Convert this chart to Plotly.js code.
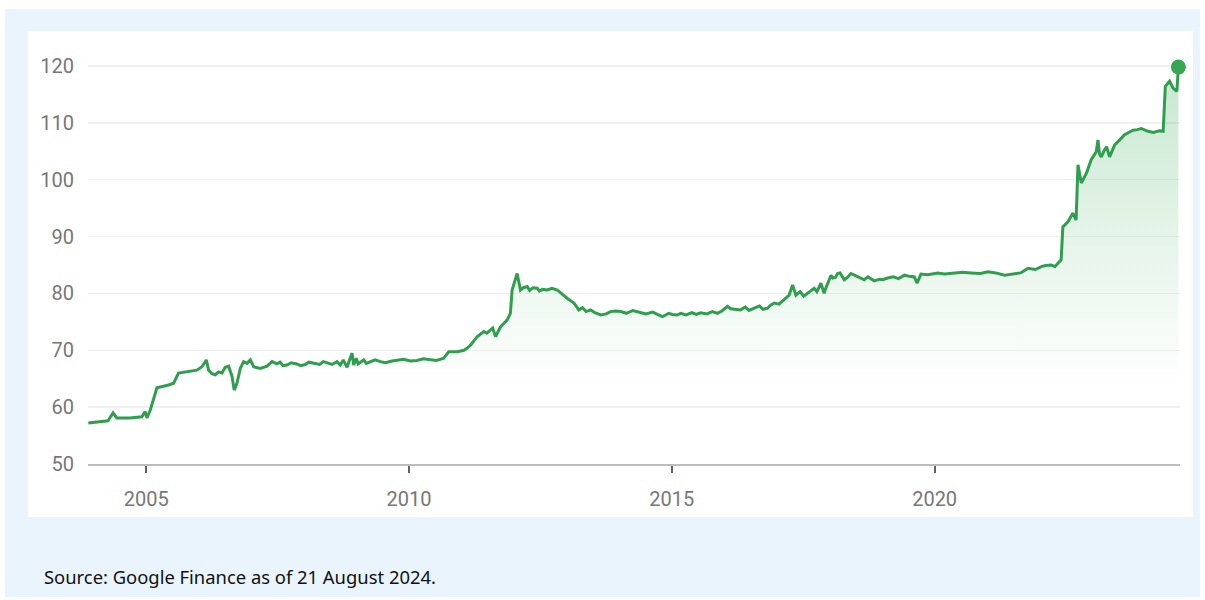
<!DOCTYPE html>
<html>
<head>
<meta charset="utf-8">
<script src="https://cdn.plot.ly/plotly-3.0.1.min.js"></script>
<style>
  html, body { margin: 0; padding: 0; background: #ffffff; width: 1205px; height: 600px; overflow: hidden; }
  #outer { position: absolute; left: 5px; top: 9px; width: 1195px; height: 588px; background: #eaf4fc; }
  #chart { position: absolute; left: 28px; top: 31px; width: 1165px; height: 486px; background: #ffffff; }
  #source { position: absolute; left: 44px; top: 564px; font-family: "Noto Sans", "Open Sans", sans-serif; font-size: 18.4px; color: #111111; white-space: nowrap; }
</style>
</head>
<body>
<div id="outer"></div>
<div id="chart"></div>
<div id="source">Source: Google Finance as of 21 August 2024.</div>
<script>
// Price history
const dates = [
  "2003-11-25","2004-02-15","2004-04-10","2004-05-15","2004-06-10","2004-09-10","2004-12-01","2004-12-24",
  "2005-01-06","2005-01-29","2005-03-16","2005-06-05","2005-07-10","2005-08-13","2005-10-11","2005-12-19",
  "2006-01-23","2006-02-22","2006-03-10","2006-04-02","2006-04-25","2006-05-18","2006-06-11","2006-07-04",
  "2006-07-27","2006-08-20","2006-09-04","2006-09-23","2006-10-16","2006-11-08","2006-12-02","2006-12-25",
  "2007-01-17","2007-03-04","2007-04-20","2007-05-25","2007-06-28","2007-07-20","2007-08-10","2007-09-05",
  "2007-10-05","2007-11-13","2007-12-10","2008-01-10","2008-02-05","2008-03-09","2008-04-20","2008-05-15",
  "2008-06-10","2008-07-15","2008-08-18","2008-09-10","2008-10-01","2008-10-27","2008-11-12","2008-12-01",
  "2008-12-12","2008-12-30","2009-01-12","2009-02-20","2009-03-10","2009-04-01","2009-05-10","2009-06-16",
  "2009-07-20","2009-09-05","2009-10-10","2009-11-24","2010-01-10","2010-02-26","2010-04-10","2010-05-29",
  "2010-07-10","2010-08-30","2010-10-04","2010-12-02","2011-01-17","2011-02-05","2011-03-04","2011-04-20",
  "2011-05-15","2011-06-05","2011-06-25","2011-07-21","2011-08-05","2011-08-25","2011-09-28","2011-11-13",
  "2011-12-06","2011-12-18","2012-01-05","2012-01-22","2012-02-14","2012-03-05","2012-04-01","2012-04-18",
  "2012-05-10","2012-06-10","2012-06-25","2012-07-15","2012-08-18","2012-09-20","2012-10-27","2012-11-10",
  "2012-12-01","2013-01-05","2013-02-20","2013-03-26","2013-04-20","2013-05-15","2013-06-16","2013-07-15",
  "2013-08-25","2013-10-01","2013-11-01","2013-12-05","2014-01-11","2014-02-20","2014-04-05","2014-05-29",
  "2014-07-05","2014-08-20","2014-09-25","2014-10-27","2014-11-20","2014-12-10","2015-01-05","2015-02-05",
  "2015-03-04","2015-04-10","2015-05-20","2015-06-20","2015-07-21","2015-09-01","2015-10-10","2015-11-13",
  "2015-12-15","2016-01-22","2016-02-15","2016-03-07","2016-04-22","2016-05-25","2016-06-20","2016-07-27",
  "2016-09-01","2016-09-25","2016-10-27","2016-11-15","2016-12-13","2017-01-15","2017-02-20","2017-03-05",
  "2017-03-26","2017-04-19","2017-05-12","2017-06-10","2017-07-05","2017-08-01","2017-08-25","2017-09-16",
  "2017-10-05","2017-11-02","2017-11-24","2017-12-01","2018-01-11","2018-01-23","2018-02-10","2018-02-26",
  "2018-03-15","2018-04-13","2018-05-05","2018-05-29","2018-06-15","2018-07-15","2018-08-05","2018-08-30",
  "2018-09-25","2018-11-07","2018-12-15","2019-01-05","2019-02-09","2019-03-20","2019-04-25","2019-06-05",
  "2019-07-10","2019-08-13","2019-09-01","2019-09-28","2019-11-15","2020-01-22","2020-03-10","2020-05-18",
  "2020-07-15","2020-09-11","2020-11-15","2021-01-05","2021-03-01","2021-05-01","2021-07-09","2021-08-20",
  "2021-10-10","2021-12-01","2022-01-11","2022-02-10","2022-03-21","2022-04-15","2022-05-07","2022-05-29",
  "2022-06-10","2022-07-15","2022-08-18","2022-09-10","2022-09-23","2022-10-16","2022-11-20","2022-12-24",
  "2023-01-28","2023-02-09","2023-02-20","2023-03-04","2023-03-26","2023-04-10","2023-05-01","2023-05-15",
  "2023-06-05","2023-07-10","2023-08-13","2023-09-10","2023-10-11","2023-11-10","2023-12-07","2024-01-22",
  "2024-03-01","2024-04-10","2024-05-07","2024-05-22","2024-06-21","2024-07-15","2024-08-10","2024-08-21"
];
const prices = [
  57.2, 57.5, 57.6, 59.0, 58.1, 58.1, 58.3, 59.2,
  58.1, 59.5, 63.4, 63.9, 64.2, 66.0, 66.2, 66.5,
  67.1, 68.3, 66.5, 65.9, 65.7, 66.2, 66.0, 67.0,
  67.2, 65.4, 63.0, 64.2, 66.8, 68.0, 67.7, 68.3,
  67.1, 66.8, 67.2, 68.0, 67.6, 67.9, 67.3, 67.4,
  67.8, 67.6, 67.3, 67.5, 67.9, 67.7, 67.5, 68.0,
  67.8, 67.5, 68.0, 67.4, 68.3, 67.0, 68.2, 69.5,
  67.4, 68.6, 67.6, 68.3, 67.7, 67.9, 68.3, 68.0,
  67.8, 68.1, 68.2, 68.4, 68.1, 68.2, 68.5, 68.3,
  68.2, 68.6, 69.75, 69.75, 70.0, 70.3, 70.9, 72.4,
  72.9, 73.3, 73.0, 73.6, 73.9, 72.4, 74.1, 75.3,
  76.5, 80.6, 82.0, 83.5, 80.6, 81.0, 81.2, 80.5,
  81.0, 80.9, 80.4, 80.7, 80.6, 80.9, 80.6, 80.3,
  80.0, 79.1, 78.3, 77.1, 77.5, 76.8, 77.1, 76.6,
  76.2, 76.4, 76.8, 76.9, 76.8, 76.5, 77.0, 76.7,
  76.4, 76.7, 76.3, 75.9, 76.2, 76.5, 76.3, 76.2,
  76.5, 76.2, 76.6, 76.3, 76.6, 76.4, 76.8, 76.5,
  76.9, 77.7, 77.3, 77.2, 77.1, 77.6, 77.0, 77.4,
  77.8, 77.2, 77.4, 77.9, 78.3, 78.1, 78.8, 79.2,
  79.7, 81.5, 79.7, 80.3, 79.5, 80.0, 80.6, 80.9,
  80.3, 81.8, 80.0, 80.6, 83.2, 82.7, 82.8, 83.5,
  83.6, 82.4, 82.8, 83.5, 83.3, 82.9, 82.6, 82.4,
  82.9, 82.2, 82.5, 82.4, 82.7, 82.9, 82.6, 83.2,
  83.0, 82.9, 81.8, 83.4, 83.3, 83.6, 83.4, 83.5,
  83.7, 83.6, 83.5, 83.8, 83.6, 83.2, 83.4, 83.6,
  84.4, 84.2, 84.7, 84.9, 85.0, 84.7, 85.3, 85.9,
  91.7, 92.6, 94.1, 92.9, 102.6, 99.4, 101.1, 103.5,
  104.9, 107.0, 104.5, 104.0, 105.2, 105.8, 104.0, 104.8,
  106.1, 107.0, 107.9, 108.3, 108.7, 108.8, 109.0, 108.5,
  108.3, 108.6, 108.5, 116.4, 117.3, 116.1, 115.5, 119.8
];
const yTickValues = [50, 60, 70, 80, 90, 100, 110, 120];
const yTickLabels = ["50", "60", "70", "80", "90", "100", "110", "120"];
const xTickValues = ["2005-01-01", "2010-01-01", "2015-01-01", "2020-01-01"];
const xTickLabels = ["2005", "2010", "2015", "2020"];

const lastDate = [dates[dates.length - 1]];
const lastPrice = [prices[prices.length - 1]];

const traces = [
  {
    type: "scatter", mode: "lines", x: dates, y: prices,
    line: { color: "#2f9e4e", width: 3 },
    fill: "tozeroy",
    fillgradient: {
      type: "vertical", start: 64, stop: 121,
      colorscale: [[0, "rgba(52,168,83,0)"], [1, "rgba(52,168,83,0.28)"]]
    },
    hoverinfo: "skip"
  },
  {
    type: "scatter", mode: "markers", x: lastDate, y: lastPrice,
    marker: { color: "#34a853", size: 15 },
    cliponaxis: false,
    hoverinfo: "skip"
  }
];

const layout = {
  width: 1165, height: 486,
  margin: { l: 60, r: 13, t: 19, b: 53 },
  paper_bgcolor: "rgba(0,0,0,0)",
  plot_bgcolor: "rgba(0,0,0,0)",
  showlegend: false,
  font: { family: "Roboto, 'Noto Sans', sans-serif", color: "#757575", size: 20 },
  xaxis: {
    type: "date",
    range: ["2003-11-23", "2024-09-01"],
    tickmode: "array", tickvals: xTickValues, ticktext: xTickLabels,
    showgrid: false, zeroline: false,
    showline: true, linecolor: "#bdbdbd", linewidth: 2,
    ticks: "outside", ticklen: 7, tickwidth: 2, tickcolor: "#5f6368",
    ticklabelstandoff: 9,
    tickfont: { size: 20, color: "#777777" },
    fixedrange: true
  },
  yaxis: {
    range: [50, 122.8],
    tickmode: "array", tickvals: yTickValues, ticktext: yTickLabels,
    showgrid: true, gridcolor: "#f0f0f0", gridwidth: 1.5,
    zeroline: false, showline: false, ticks: "",
    ticklabelstandoff: 13,
    tickfont: { size: 20, color: "#777777" },
    fixedrange: true
  }
};

Plotly.newPlot("chart", traces, layout, { displayModeBar: false, staticPlot: true });
</script>
</body>
</html>
